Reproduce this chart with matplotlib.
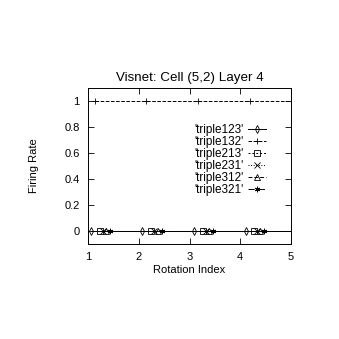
import matplotlib
matplotlib.use("Agg")
import matplotlib.pyplot as plt

# x positions for each series (points are staggered);
# the last point of each series lies just past the right edge
x_123 = [1.05, 2.07, 3.09, 4.11, 5.13]
x_132 = [1.13, 2.15, 3.17, 4.19, 5.21]
x_213 = [1.24, 2.25, 3.26, 4.27, 5.28]
x_231 = [1.30, 2.31, 3.32, 4.33, 5.34]
x_312 = [1.36, 2.37, 3.38, 4.39, 5.40]
x_321 = [1.44, 2.45, 3.46, 4.47, 5.48]

y_123 = [0, 0, 0, 0, 0]
y_132 = [1, 1, 1, 1, 1]
y_213 = [0, 0, 0, 0, 0]
y_231 = [0, 0, 0, 0, 0]
y_312 = [0, 0, 0, 0, 0]
y_321 = [0, 0, 0, 0, 0]

labels = ["'triple123'", "'triple132'", "'triple213'",
          "'triple231'", "'triple312'", "'triple321'"]

plt.rcParams['font.family'] = ['Liberation Sans', 'DejaVu Sans']
plt.rcParams['font.size'] = 8

fig = plt.figure(figsize=(3.39, 3.39), dpi=100)
ax = fig.add_axes([88 / 339, 1 - 244 / 339, 203 / 339, 156 / 339])

series = [
    (x_123, y_123, 'd', '-'),
    (x_132, y_132, '+', '--'),
    (x_213, y_213, 's', (0, (2, 2))),
    (x_231, y_231, 'x', ':'),
    (x_312, y_312, '^', (0, (4, 2))),
    (x_321, y_321, (6, 2, 0), '-.'),
]
for (x, y, m, ls), lab in zip(series, labels):
    ax.plot(x, y, color='black', linewidth=0.7, linestyle=ls, marker=m,
            markersize=4, markerfacecolor='none', markeredgewidth=0.6,
            label=lab)

ax.set_xlim(1, 5)
ax.set_ylim(-0.1, 1.1)
ax.set_xticks([1, 2, 3, 4, 5])
ax.set_yticks([0, 0.2, 0.4, 0.6, 0.8, 1])
ax.set_yticklabels(['0', '0.2', '0.4', '0.6', '0.8', '1'])
ax.tick_params(direction='in', length=4, width=0.6, top=True, right=True, pad=6)
for s in ax.spines.values():
    s.set_linewidth(0.7)

ax.set_title("Visnet: Cell (5,2) Layer 4", pad=5)
ax.set_xlabel("Rotation Index", labelpad=2)
ax.set_ylabel("Firing Rate", labelpad=18)

ax.legend(loc='upper right', bbox_to_anchor=(0.90, 0.80), frameon=False,
          markerfirst=False, handlelength=1.5, handletextpad=0.4,
          labelspacing=0.0, borderaxespad=0.0, fontsize=8.5)

fig.savefig("out.png", dpi=100)
